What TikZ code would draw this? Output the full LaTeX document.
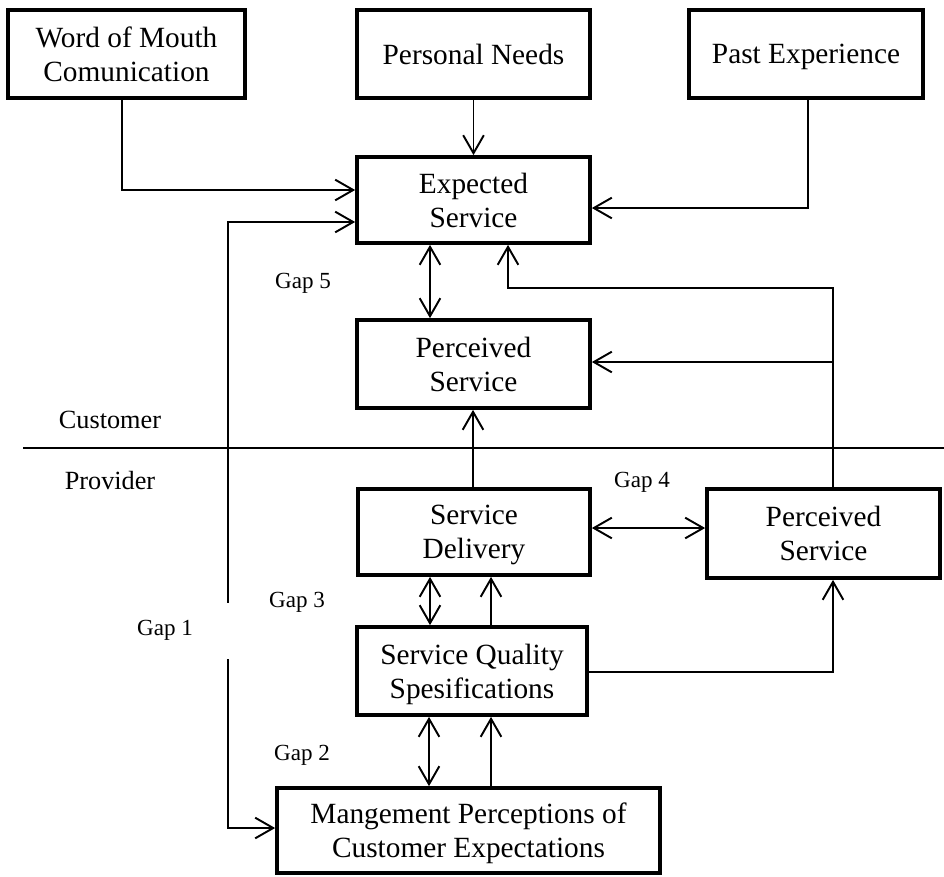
\documentclass[tikz,border=0pt]{standalone}
\usepackage{fontspec}
\setmainfont{Liberation Serif}
\usetikzlibrary{arrows.meta,calc}
\begin{document}
\begin{tikzpicture}[x=0.75pt,y=-0.75pt,
  box/.style={draw,line width=2.8pt,align=center,inner sep=0pt,text depth=0pt,
    font=\fontsize{22}{25.5}\selectfont},
  conn/.style={line width=1.45pt},
  arr/.style={conn,-{Straight Barb[length=13.5pt,width=15.5pt]}},
  darr/.style={conn,{Straight Barb[length=13.5pt,width=15.5pt]}-{Straight Barb[length=13.5pt,width=15.5pt]}},
  gaplbl/.style={font=\fontsize{17.3}{20}\selectfont,inner sep=0pt},
  sidelbl/.style={font=\fontsize{19.7}{22}\selectfont,inner sep=0pt}]
\useasboundingbox (0,0) rectangle (944,876);
% boxes
\node[box,minimum width=237*0.75pt,minimum height=88*0.75pt] (wom) at (126.5,54) {Word of Mouth\\Comunication};
\node[box,minimum width=233*0.75pt,minimum height=88*0.75pt] (pn) at (473.5,54) {Personal Needs};
\node[box,minimum width=234*0.75pt,minimum height=88*0.75pt] (pe) at (806,54) {Past Experience};
\node[box,minimum width=233*0.75pt,minimum height=86*0.75pt] (es) at (473.5,200) {Expected\\Service};
\node[box,minimum width=233*0.75pt,minimum height=88*0.75pt] (ps) at (473.5,364) {Perceived\\Service};
\node[box,minimum width=232*0.75pt,minimum height=86*0.75pt] (sd) at (474,532) {Service\\Delivery};
\node[box,minimum width=233*0.75pt,minimum height=89*0.75pt] (ps2) at (823.5,533.5) {Perceived\\Service};
\node[box,minimum width=230*0.75pt,minimum height=88*0.75pt] (sqs) at (472,671) {Service Quality\\Spesifications};
\node[box,minimum width=383*0.75pt,minimum height=85*0.75pt] (mpce) at (468.5,830.5) {Mangement Perceptions of\\Customer Expectations};
% helper coordinates
\coordinate (wx) at (122,190);
\coordinate (g1top) at (228,222);
\coordinate (g1bot) at (228,828);
\coordinate (pex) at (808,208);
\coordinate (v) at (833,288);
\coordinate (fb) at (508,288);
\coordinate (dl) at (23,448);
\coordinate (dr) at (944,448);
% divider
\draw[conn] (dl) -- (dr);
% top inputs
\draw[arr] (wom.south -| wx) -- (wx) -- (wx -| es.west);
\draw[arr] (pn.south) -- (es.north);
\draw[arr] (pe.south -| pex) -- (pex) -- (pex -| es.east);
% gap 1 loop
\draw[darr] (g1top -| es.west) -- (g1top) -- (g1bot) -- (g1bot -| mpce.west);
\fill[white] (224,603) rectangle (232,659);
% gap 5
\draw[darr] (es.south -| 430,0) -- (ps.north -| 430,0);
% feedback from provider-side perceived service
\draw[arr] (ps2.north -| v) -- (v) -- (fb) -- (fb |- es.south);
\draw[arr] (v |- 0,362) -- (ps.east |- 0,362);
% delivery to perceived
\draw[arr] (sd.north -| 473,0) -- (ps.south -| 473,0);
% gap 4
\draw[darr] (sd.east |- 0,528) -- (ps2.west |- 0,528);
% gap 3
\draw[darr] (sd.south -| 430,0) -- (sqs.north -| 430,0);
\draw[arr] (sqs.north -| 491,0) -- (sd.south -| 491,0);
% sqs to ps2
\draw[arr] (sqs.east |- 0,672) -- (v |- 0,672) -- (ps2.south -| v);
% gap 2
\draw[darr] (mpce.north -| 429,0) -- (sqs.south -| 429,0);
\draw[arr] (mpce.north -| 491,0) -- (sqs.south -| 491,0);
% labels
\node[sidelbl] (cust) at (110,420) {Customer};
\node[sidelbl] (prov) at (110,480) {Provider};
\node[gaplbl] (g5) at (303,283) {Gap 5};
\node[gaplbl] (g4) at (642,482) {Gap 4};
\node[gaplbl] (g3) at (297,602) {Gap 3};
\node[gaplbl] (g1) at (165,630) {Gap 1};
\node[gaplbl] (g2) at (302,755) {Gap 2};
\end{tikzpicture}
\end{document}
